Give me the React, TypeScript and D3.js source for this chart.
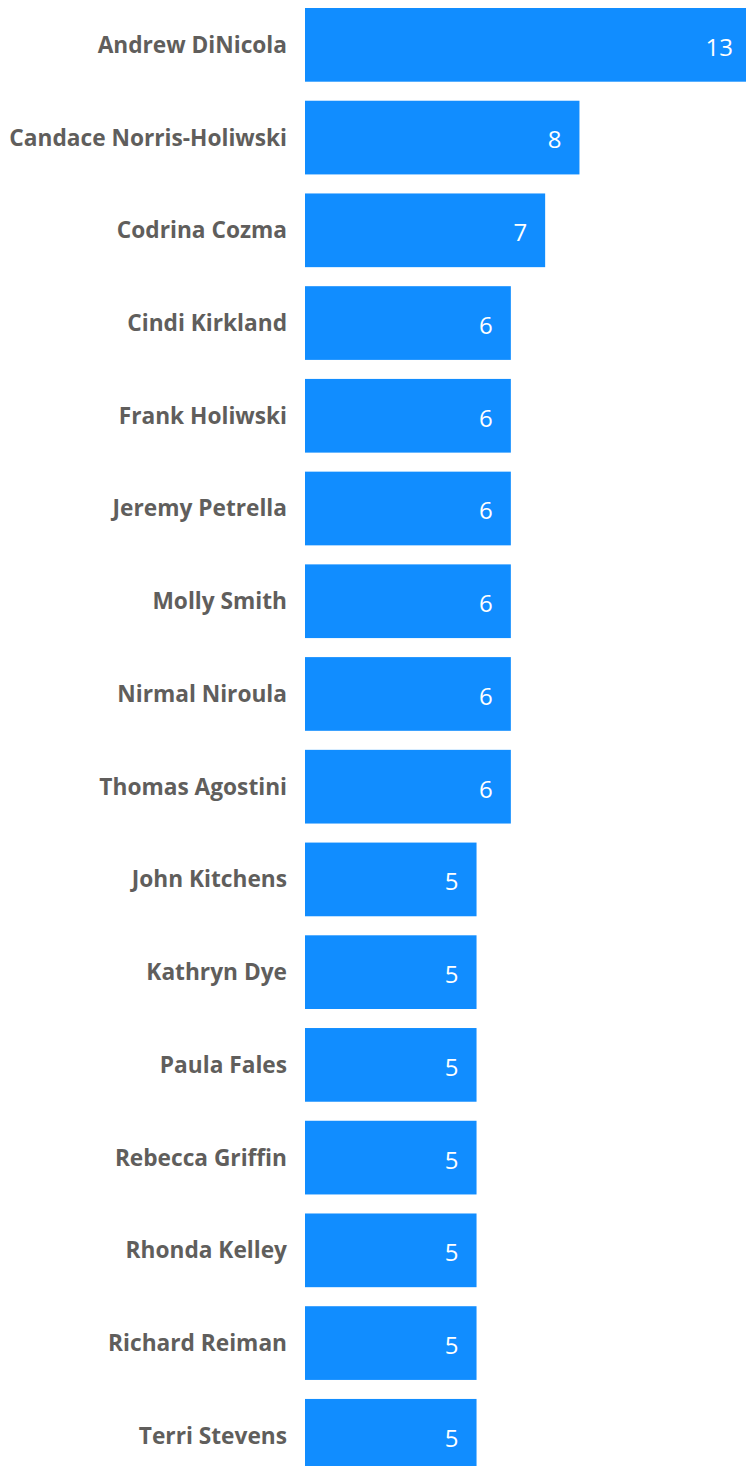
import * as d3 from "d3";
import React from "react";

const names: string[] = [
	"Andrew DiNicola",
	"Candace Norris-Holiwski",
	"Codrina Cozma",
	"Cindi Kirkland",
	"Frank Holiwski",
	"Jeremy Petrella",
	"Molly Smith",
	"Nirmal Niroula",
	"Thomas Agostini",
	"John Kitchens",
	"Kathryn Dye",
	"Paula Fales",
	"Rebecca Griffin",
	"Rhonda Kelley",
	"Richard Reiman",
	"Terri Stevens",
];
const counts: number[] = [13, 8, 7, 6, 6, 6, 6, 6, 6, 5, 5, 5, 5, 5, 5, 5];

const App = () => {
	const width: number = 746;
	const height: number = 1466;
	const loff: number = 305;
	const toff: number = 8;
	const step: number = 92.73;
	const barH: number = 73.7;

	const data = names.map((n, i) => ({ name: n, value: counts[i] }));

	// 13 runs past the right edge, like the original
	const xScale = d3.scaleLinear().domain([0, 13]).range([loff, loff + 446]);
	const yScale = d3
		.scaleBand()
		.domain(names)
		.range([toff, toff + step * (names.length - 1) + barH])
		.paddingInner(1 - barH / step)
		.paddingOuter(0);

	return (
		<svg
			width={width}
			height={height}
			style={{ position: "absolute", left: 0, top: 0, display: "block" }}
		>
			{data.map((d) => {
				const y = yScale(d.name) as number;
				const bh = yScale.bandwidth();
				return (
					<g key={d.name}>
						<rect
							x={xScale(0)}
							y={y}
							width={xScale(d.value) - xScale(0)}
							height={bh}
							fill="#118DFF"
						/>
						<text
							x={loff - 18}
							y={y + bh / 2}
							dy="0.35em"
							textAnchor="end"
							fontFamily="'Open Sans', sans-serif"
							fontWeight={700}
							fontSize={22.7}
							fill="#605E5C"
						>
							{d.name}
						</text>
						<text
							x={xScale(d.value) - 18}
							y={y + bh / 2 + 2.5}
							dy="0.35em"
							textAnchor="end"
							fontFamily="'Open Sans', sans-serif"
							fontSize={24}
							fill="#ffffff"
						>
							{d.value}
						</text>
					</g>
				);
			})}
		</svg>
	);
};

export default App;
